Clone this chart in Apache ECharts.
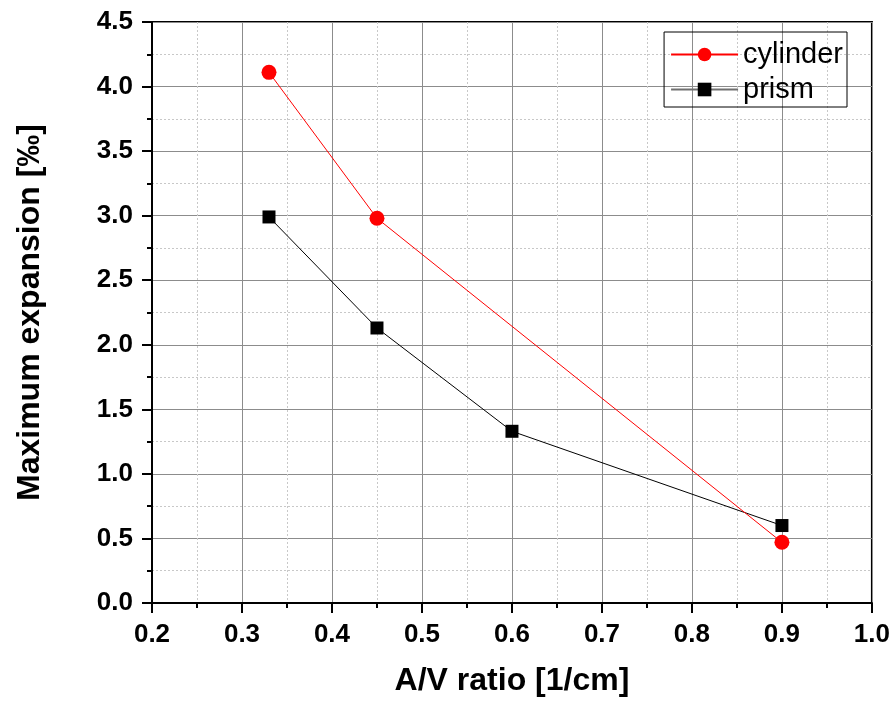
<!DOCTYPE html>
<html>
<head>
<meta charset="utf-8">
<script src="https://cdn.jsdelivr.net/npm/echarts@6/dist/echarts.min.js"></script>
<style>
  html, body { margin: 0; padding: 0; background: #fff; }
  #chart { width: 893px; height: 703px; }
</style>
</head>
<body>
<div id="chart"></div>
<script>
// data
const cylinderX = [0.33, 0.45, 0.9];
const cylinderY = [4.11, 2.98, 0.47];
const prismX = [0.33, 0.45, 0.6, 0.9];
const prismY = [2.99, 2.13, 1.33, 0.6];

const chartDom = document.getElementById('chart'),
    chart = echarts.init(chartDom);

const fontFam = 'Liberation Sans, Arial, sans-serif';

let option;

option = {
    animation: false,
    grid: {
        left: 152,
        right: 20,
        top: 22,
        bottom: 100,
        show: true,
        borderColor: '#000',
        borderWidth: 2,
        backgroundColor: 'transparent'
    },
    legend: {
        right: 46,
        top: 32,
        orient: 'vertical',
        borderColor: '#000',
        borderWidth: 1,
        padding: [8, 4, 3, 6],
        itemGap: 6,
        itemWidth: 67,
        itemHeight: 17,
        textStyle: {
            fontFamily: fontFam,
            fontSize: 29,
            color: '#000'
        },
        data: [
            { name: 'cylinder' },
            { name: 'prism', lineStyle: { color: '#707070', width: 2 } }
        ]
    },
    xAxis: {
        type: 'value',
        min: 0.2,
        max: 1.0,
        interval: 0.1,
        name: 'A/V ratio [1/cm]',
        nameLocation: 'middle',
        nameGap: 62,
        nameTextStyle: {
            fontFamily: fontFam,
            fontSize: 32,
            fontWeight: 'bold',
            color: '#000'
        },
        axisLine: { lineStyle: { color: '#000', width: 2 } },
        axisTick: { inside: false, length: 10, lineStyle: { color: '#000', width: 2 } },
        minorTick: { show: true, splitNumber: 2, length: 5, lineStyle: { color: '#000', width: 2 } },
        axisLabel: {
            margin: 19,
            fontFamily: fontFam,
            fontSize: 26,
            fontWeight: 'bold',
            color: '#000',
            formatter: function (val) {
                return val.toFixed(1);
            }
        },
        splitLine: { show: true, lineStyle: { color: '#8c8c8c', width: 1 } },
        minorSplitLine: { show: true, lineStyle: { color: '#c8c8c8', width: 1, type: [2, 2] } }
    },
    yAxis: {
        type: 'value',
        min: 0,
        max: 4.5,
        interval: 0.5,
        name: 'Maximum expansion [‰]',
        nameLocation: 'middle',
        nameGap: 106,
        nameTextStyle: {
            fontFamily: fontFam,
            fontSize: 32,
            fontWeight: 'bold',
            color: '#000'
        },
        axisLine: { lineStyle: { color: '#000', width: 2 } },
        axisTick: { inside: false, length: 10, lineStyle: { color: '#000', width: 2 } },
        minorTick: { show: true, splitNumber: 2, length: 5, lineStyle: { color: '#000', width: 2 } },
        axisLabel: {
            margin: 19,
            fontFamily: fontFam,
            fontSize: 26,
            fontWeight: 'bold',
            color: '#000',
            formatter: function (val) {
                return val.toFixed(1);
            }
        },
        splitLine: { show: true, lineStyle: { color: '#8c8c8c', width: 1 } },
        minorSplitLine: { show: true, lineStyle: { color: '#c8c8c8', width: 1, type: [2, 2] } }
    },
    series: [
        {
            name: 'cylinder',
            type: 'line',
            symbol: 'circle',
            symbolSize: 15,
            z: 3,
            itemStyle: { color: '#ff0000' },
            lineStyle: { color: '#ff0000', width: 1 },
            data: cylinderX.map((x, i) => [x, cylinderY[i]])
        },
        {
            name: 'prism',
            type: 'line',
            symbol: 'rect',
            symbolSize: 13,
            z: 2,
            itemStyle: { color: '#000' },
            lineStyle: { color: '#000', width: 1 },
            data: prismX.map((x, i) => [x, prismY[i]])
        }
    ]
};

option && chart.setOption(option);
</script>
</body>
</html>
